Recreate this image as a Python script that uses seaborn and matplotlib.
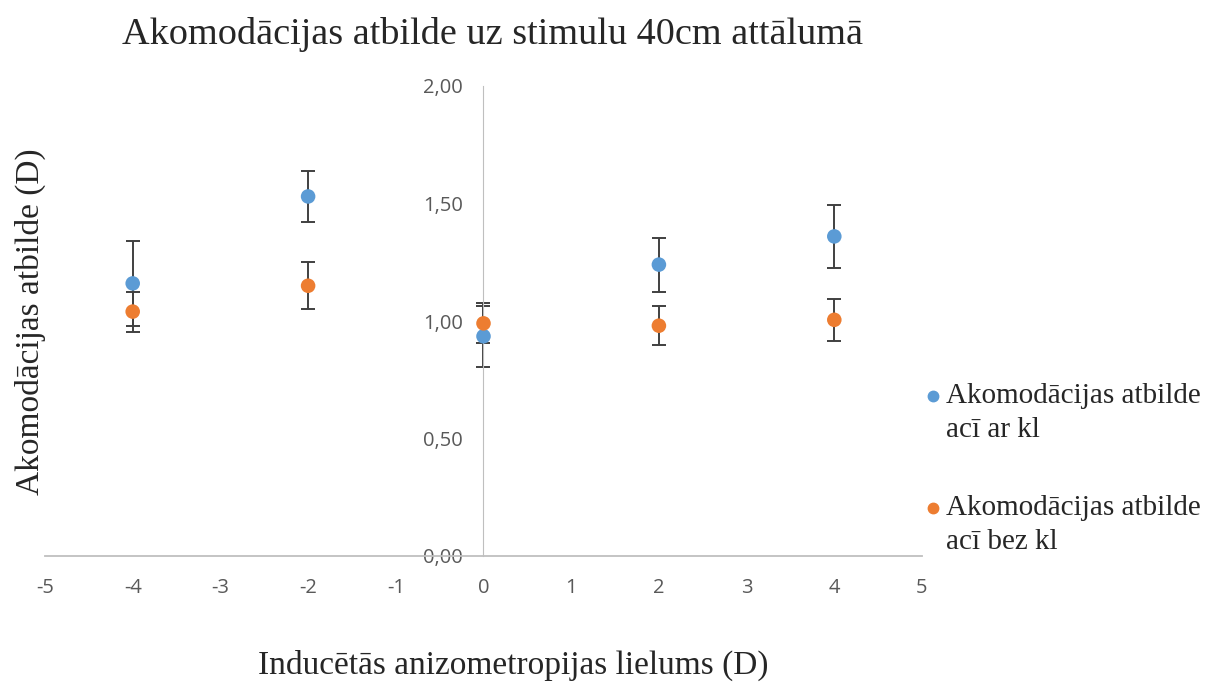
"""
Accommodation response vs induced anisometropia, scatter with error bars.
"""
import numpy as np
import pandas as pd
import matplotlib
matplotlib.use('Agg')
import matplotlib.pyplot as plt
from matplotlib.lines import Line2D
import seaborn as sns

# values
x_vals = [-4, -2, 0, 2, 4]
ar_kl = [1.16, 1.53, 0.935, 1.24, 1.36]
ar_kl_err = [0.18, 0.11, 0.13, 0.115, 0.133]
bez_kl = [1.04, 1.15, 0.99, 0.98, 1.005]
bez_kl_err = [0.085, 0.10, 0.085, 0.082, 0.09]

series_names = ['Akomodācijas atbilde acī ar kl', 'Akomodācijas atbilde acī bez kl']
legend_lines = [('Akomodācijas atbilde', 'acī ar kl'),
                ('Akomodācijas atbilde', 'acī bez kl')]
colors = ['#5B9BD5', '#ED7D31']

x_ticks = [-5, -4, -3, -2, -1, 0, 1, 2, 3, 4, 5]
y_ticks = [0.0, 0.5, 1.0, 1.5, 2.0]

df = pd.DataFrame({
    'x': x_vals * 2,
    'y': ar_kl + bez_kl,
    'err': ar_kl_err + bez_kl_err,
    'series': [series_names[0]] * len(x_vals) + [series_names[1]] * len(x_vals),
})

sns.set_style('white')
serif = ['Liberation Serif', 'DejaVu Serif']
sans = ['Open Sans', 'DejaVu Sans']

W, H = 1205, 685
fig = plt.figure(figsize=(W / 100, H / 100), dpi=100)
ax = fig.add_axes([45 / W, 1 - 556 / H, (922 - 45) / W, (556 - 86) / H])

# error bars first so the markers sit on top
for name in series_names:
    sub = df[df['series'] == name]
    ax.errorbar(sub['x'], sub['y'], yerr=sub['err'], fmt='none',
                ecolor='#404040', elinewidth=1.4, capsize=5, capthick=1.4, zorder=2)

sns.scatterplot(data=df, x='x', y='y', hue='series', palette=colors,
                s=110, edgecolor='none', ax=ax, zorder=3, legend=False)

# spine placement resets the ticks, so do it before styling them
for side in ['top', 'right']:
    ax.spines[side].set_visible(False)
ax.spines['left'].set_position(('data', 0))
ax.spines['left'].set_color('#BFBFBF')
ax.spines['bottom'].set_color('#BFBFBF')
ax.spines['bottom'].set_linewidth(1.3)

ax.set_xlim(-5, 5)
ax.set_ylim(0, 2)
ax.set_xticks(x_ticks)
ax.set_xticklabels([str(t) for t in x_ticks], family=sans, fontsize=14.5, color='#595959')
ax.set_yticks(y_ticks)
ax.set_yticklabels([f'{t:.2f}'.replace('.', ',') for t in y_ticks],
                   family=sans, fontsize=14.5, color='#595959')
ax.tick_params(axis='both', length=0)
ax.tick_params(axis='x', pad=16)
ax.tick_params(axis='y', pad=15)

ax.set_xlabel('')
ax.set_ylabel('')
fig.text(513 / W, 1 - 665 / H, 'Inducētās anizometropijas lielums (D)', family=serif,
         fontsize=24, ha='center', va='center')
fig.text(30 / W, 1 - 322 / H, 'Akomodācijas atbilde (D)', family=serif, fontsize=24,
         rotation=90, ha='center', va='center')
fig.text(492 / W, 1 - 35 / H, 'Akomodācijas atbilde uz stimulu 40cm attālumā', family=serif,
         fontsize=27.5, ha='center', va='center')

# legend: marker lines up with the first text line
legend_y = [396, 508]
for color, (line1, line2), y in zip(colors, legend_lines, legend_y):
    fig.add_artist(Line2D([933 / W], [1 - y / H], marker='o', markersize=7.5,
                          color=color, linestyle='none', transform=fig.transFigure))
    fig.text(946 / W, 1 - y / H, line1, family=serif, fontsize=21, va='center')
    fig.text(946 / W, 1 - (y + 34) / H, line2, family=serif, fontsize=21, va='center')

fig.savefig('out.png', dpi=100)
plt.close(fig)
